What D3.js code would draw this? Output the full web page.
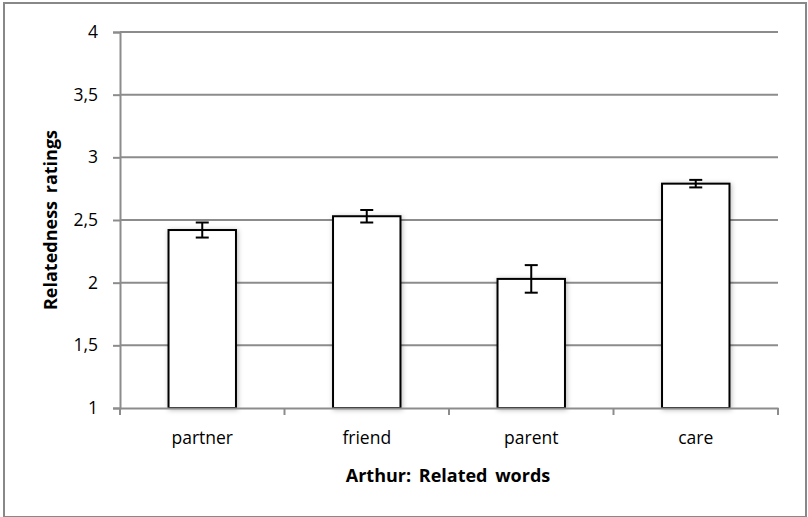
<!DOCTYPE html>
<html>
<head>
<meta charset="utf-8">
<script src="https://cdnjs.cloudflare.com/ajax/libs/d3/7.8.5/d3.min.js"></script>
<style>
  body { margin: 0; background: #fff; }
  svg text { font-family: "Open Sans", "Lato", sans-serif; fill: #000; }
</style>
</head>
<body>
<div id="chart"></div>
<script>
// chart data
var categories = ["partner", "friend", "parent", "care"];
var ratings = [2.42, 2.53, 2.03, 2.79];
var errors = [0.06, 0.05, 0.11, 0.03];
var yTicks = [1, 1.5, 2, 2.5, 3, 3.5, 4];

var W = 808, H = 517;
var margin = {top: 32, right: 30, bottom: 109, left: 120},
    width = 778 - margin.left,
    height = 408 - margin.top;

var svg = d3.select("#chart")
  .append("svg")
  .attr("width", W)
  .attr("height", H);

// soft shadow like the original bars
var defs = svg.append("defs");
var f = defs.append("filter").attr("id", "shadow")
  .attr("x", "-20%").attr("y", "-10%").attr("width", "140%").attr("height", "120%");
f.append("feDropShadow").attr("dx", 1).attr("dy", 1).attr("stdDeviation", 2.5)
  .attr("flood-color", "#000").attr("flood-opacity", 0.28);

// outer frame
svg.append("rect")
  .attr("x", 4).attr("y", 3)
  .attr("width", 802).attr("height", 514)
  .attr("fill", "none")
  .attr("stroke", "#888")
  .attr("stroke-width", 2);

var g = svg.append("g")
  .attr("transform", "translate(" + margin.left + "," + margin.top + ")");

var x = d3.scaleBand()
  .domain(categories)
  .range([0, width])
  .paddingInner(0.59)
  .paddingOuter(0.295);

var xTicks = d3.scaleBand().domain(categories).range([0, width]);

var y = d3.scaleLinear()
  .domain([1, 4])
  .range([height, 0]);

// gridlines
g.append("g")
  .selectAll("line")
  .data(yTicks.slice(1))
  .enter()
  .append("line")
  .attr("x1", 0).attr("x2", width)
  .attr("y1", function (d) { return y(d); })
  .attr("y2", function (d) { return y(d); })
  .attr("stroke", "#8c8c8c")
  .attr("stroke-width", 2);

// y axis
var yAxis = g.append("g")
  .call(d3.axisLeft(y).tickValues(yTicks).tickSize(7).tickPadding(15)
    .tickFormat(function (d) { return String(d).replace(".", ","); }));
yAxis.select(".domain").attr("stroke", "#8c8c8c").attr("stroke-width", 2);
yAxis.selectAll(".tick line").attr("stroke", "#8c8c8c").attr("stroke-width", 2);
yAxis.selectAll("text").style("font-size", "17.5px").attr("font-family", "Open Sans, sans-serif");

// bars
g.append("g")
  .selectAll("rect")
  .data(ratings)
  .enter()
  .append("rect")
  .attr("x", function (d, i) { return x(categories[i]); })
  .attr("y", function (d) { return y(d); })
  .attr("width", x.bandwidth())
  .attr("height", function (d) { return height - y(d); })
  .attr("fill", "#fff")
  .attr("stroke", "#000")
  .attr("stroke-width", 2)
  .attr("filter", "url(#shadow)");

// x axis (drawn over bar bottoms)
var xAxis = g.append("g")
  .attr("transform", "translate(0," + height + ")")
  .call(d3.axisBottom(xTicks).tickSize(0).tickPadding(24).tickSizeOuter(0));
xAxis.select(".domain").attr("stroke", "#8c8c8c").attr("stroke-width", 2);
xAxis.selectAll("text").style("font-size", "17.5px").attr("font-family", "Open Sans, sans-serif");

// category boundary ticks
g.append("g")
  .selectAll("line")
  .data(categories.concat(["end"]))
  .enter()
  .append("line")
  .attr("x1", function (d, i) { return i < categories.length ? xTicks(d) : width; })
  .attr("x2", function (d, i) { return i < categories.length ? xTicks(d) : width; })
  .attr("y1", height).attr("y2", height + 7)
  .attr("stroke", "#8c8c8c")
  .attr("stroke-width", 2);

// error bars
var eb = g.append("g").attr("stroke", "#000").attr("stroke-width", 2);
ratings.forEach(function (v, i) {
  var cx = x(categories[i]) + x.bandwidth() / 2;
  var y0 = y(v + errors[i]), y1 = y(v - errors[i]);
  eb.append("line").attr("x1", cx).attr("x2", cx).attr("y1", y0).attr("y2", y1);
  eb.append("line").attr("x1", cx - 6.5).attr("x2", cx + 6.5).attr("y1", y0).attr("y2", y0);
  eb.append("line").attr("x1", cx - 6.5).attr("x2", cx + 6.5).attr("y1", y1).attr("y2", y1);
});

// axis titles
svg.append("text")
  .attr("x", 448).attr("y", 482)
  .attr("text-anchor", "middle")
  .style("font-size", "18px")
  .style("font-weight", "bold")
  .style("word-spacing", "3px")
  .text("Arthur: Related words");

svg.append("text")
  .attr("transform", "translate(57,220) rotate(-90)")
  .attr("text-anchor", "middle")
  .style("font-size", "18px")
  .style("font-weight", "bold")
  .style("word-spacing", "3px")
  .text("Relatedness ratings");
</script>
</body>
</html>
